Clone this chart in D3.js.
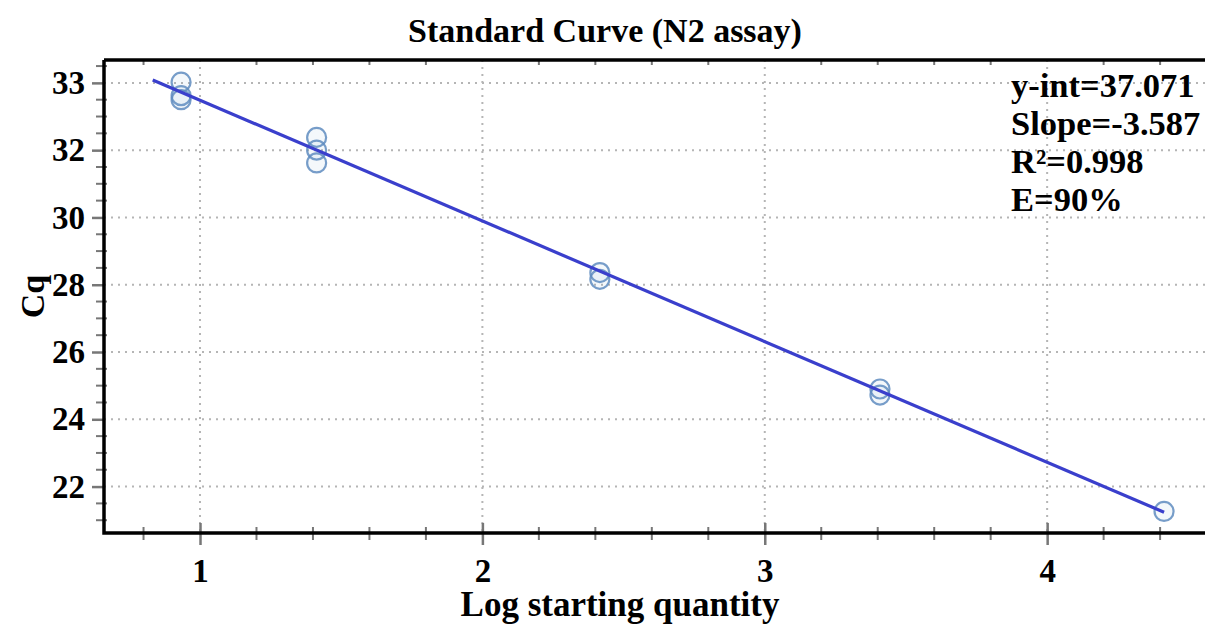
<!DOCTYPE html>
<html>
<head>
<meta charset="utf-8">
<script src="https://cdn.jsdelivr.net/npm/d3@7"></script>
<style>
  body { margin: 0; background: #fff; }
  svg { display: block; font-family: "Liberation Serif", "Times New Roman", serif; font-weight: bold; }
  .grid line { stroke: #b5b5b5; stroke-width: 2; stroke-dasharray: 2,5; }
  .tick-minor line { stroke: #777; stroke-width: 2; }
</style>
</head>
<body>
<svg width="1205" height="624"></svg>
<script>
// replicate Cq readings per standard
const logQty = [0.933, 0.933, 0.933, 1.413, 1.413, 1.413, 2.416, 2.416, 3.408, 3.408, 4.414];
const cq     = [34.02, 33.62, 33.50, 32.38, 32.00, 31.62, 28.36, 28.16, 24.90, 24.72, 21.26];

const yInt = 37.071;
const slope = -3.587;
const fitRange = [0.8325, 4.414];

const xTicks = [1, 2, 3, 4];
const yTicks = [34, 32, 30, 28, 26, 24, 22];
const yTickLabels = ['33', '32', '30', '28', '26', '24', '22'];
const statLines = ['y-int=37.071', 'Slope=-3.587', 'R\u00B2=0.998', 'E=90%'];

const svg = d3.select('svg');
const width = +svg.attr('width');
const height = +svg.attr('height');

const margin = {top: 60, right: 0, bottom: 91, left: 104};
const innerWidth = width - margin.left - margin.right;
const innerHeight = height - margin.top - margin.bottom;

const xScale = d3.scaleLinear().domain([0.66, 4.559]).range([0, innerWidth]);
const yScale = d3.scaleLinear().domain([20.62, 34.68]).range([innerHeight, 0]);

const g = svg.append('g')
    .attr('transform', `translate(${margin.left}, ${margin.top})`);

// grid
g.append('g').attr('class', 'grid')
  .selectAll('line').data(yTicks).join('line')
    .attr('x1', 0).attr('x2', innerWidth)
    .attr('y1', d => yScale(d)).attr('y2', d => yScale(d));
g.append('g').attr('class', 'grid')
  .selectAll('line').data(xTicks).join('line')
    .attr('y1', 0).attr('y2', innerHeight)
    .attr('x1', d => xScale(d)).attr('x2', d => xScale(d));

// minor ticks
const xMinor = d3.range(0.8, 4.6, 0.2).filter(v => Math.abs(v - Math.round(v)) > 0.01);
const yMinor = d3.range(21, 34.6, 0.5).filter(v => Math.abs(v / 2 - Math.round(v / 2)) > 0.01);

const xAxis = d3.axisBottom(xScale).tickValues(xTicks).tickFormat(d3.format('d'))
    .tickSize(12).tickPadding(14);
const xAxisG = g.append('g').attr('transform', `translate(0, ${innerHeight})`).call(xAxis)
    .attr('font-family', null).attr('font-size', 33);
xAxisG.select('.domain').remove();
xAxisG.selectAll('.tick line').attr('stroke', '#777').attr('stroke-width', 2.5).attr('y1', -10);
xAxisG.selectAll('.tick text').attr('fill', '#000');

g.append('g').attr('class', 'tick-minor')
  .selectAll('line').data(xMinor).join('line')
    .attr('x1', d => xScale(d)).attr('x2', d => xScale(d))
    .attr('y1', innerHeight - 6).attr('y2', innerHeight + 7);
g.append('g').attr('class', 'tick-minor')
  .selectAll('line').data(xMinor).join('line')
    .attr('x1', d => xScale(d)).attr('x2', d => xScale(d))
    .attr('y1', 0).attr('y2', 5);

const yAxis = d3.axisLeft(yScale).tickValues(yTicks)
    .tickFormat((d, i) => yTickLabels[i]).tickSize(12).tickPadding(7);
const yAxisG = g.append('g').call(yAxis)
    .attr('font-family', null).attr('font-size', 33);
yAxisG.select('.domain').remove();
yAxisG.selectAll('.tick line').attr('stroke', '#777').attr('stroke-width', 2.5).attr('x2', -12);
yAxisG.selectAll('.tick text').attr('fill', '#000');

g.append('g').attr('class', 'tick-minor')
  .selectAll('line').data(yMinor).join('line')
    .attr('x1', -8).attr('x2', 3)
    .attr('y1', d => yScale(d)).attr('y2', d => yScale(d));

// frame
g.append('path')
    .attr('d', `M0,0H${innerWidth}M0,0V${innerHeight}H${innerWidth}`)
    .attr('fill', 'none').attr('stroke', '#000').attr('stroke-width', 3.5);

// points
g.append('g').selectAll('circle').data(logQty).join('circle')
    .attr('cx', d => xScale(d))
    .attr('cy', (d, i) => yScale(cq[i]))
    .attr('r', 9.5)
    .attr('fill', 'rgba(120,160,205,0.08)')
    .attr('stroke', '#5f8cc0')
    .attr('stroke-opacity', 0.85)
    .attr('stroke-width', 2.2);

// regression line
const line = d3.line().x(d => xScale(d)).y(d => yScale(yInt + slope * d));
g.append('path')
    .attr('d', line(fitRange))
    .attr('fill', 'none').attr('stroke', '#3a3fcc').attr('stroke-width', 3.2);

// stats text
g.append('g').selectAll('text').data(statLines).join('text')
    .attr('x', 907)
    .attr('y', (d, i) => 37 + i * 38)
    .attr('font-size', 34.5)
    .text(d => d);

// titles
svg.append('text')
    .attr('x', 605).attr('y', 42)
    .attr('text-anchor', 'middle').attr('font-size', 34)
    .text('Standard Curve (N2 assay)');

svg.append('text')
    .attr('x', 620).attr('y', 616)
    .attr('text-anchor', 'middle').attr('font-size', 35)
    .text('Log starting quantity');

svg.append('text')
    .attr('transform', `translate(44, ${margin.top + innerHeight / 2}) rotate(-90)`)
    .attr('text-anchor', 'middle').attr('font-size', 34)
    .text('Cq');
</script>
</body>
</html>
